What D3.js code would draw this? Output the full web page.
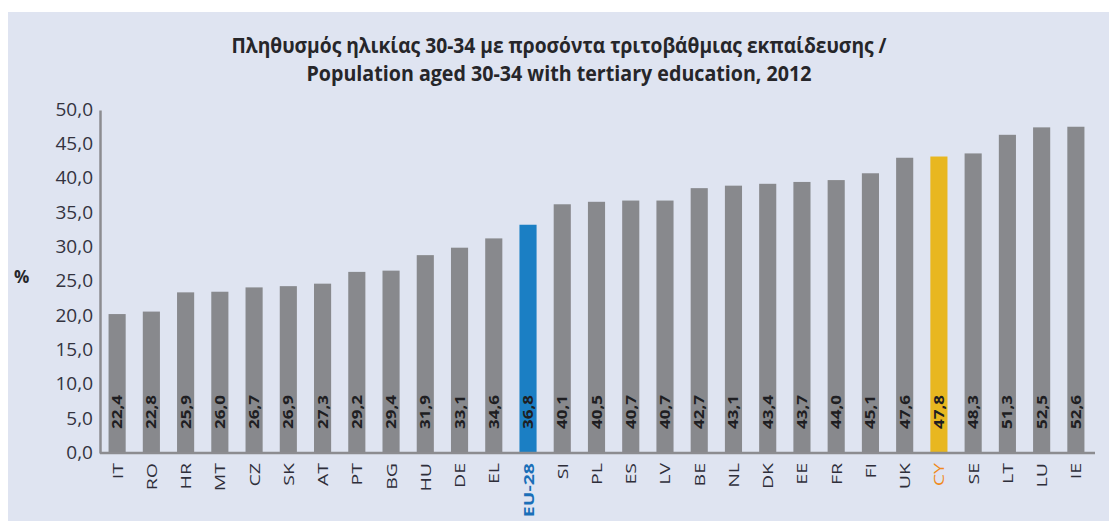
<!DOCTYPE html>
<html>
<head>
<meta charset="utf-8">
<script src="https://cdn.jsdelivr.net/npm/d3@7"></script>
<style>
  html, body { margin: 0; padding: 0; background: #ffffff; }
  svg { display: block; }
</style>
</head>
<body>
<svg id="chart" width="1109" height="521"></svg>
<script>
const titleLines = [
  "Πληθυσμός ηλικίας 30-34 με προσόντα τριτοβάθμιας εκπαίδευσης /",
  "Population aged 30-34 with tertiary education, 2012"
];
const categories = ["IT","RO","HR","MT","CZ","SK","AT","PT","BG","HU","DE","EL","EU-28","SI","PL","ES","LV","BE","NL","DK","EE","FR","FI","UK","CY","SE","LT","LU","IE"];
const values = [22.4,22.8,25.9,26.0,26.7,26.9,27.3,29.2,29.4,31.9,33.1,34.6,36.8,40.1,40.5,40.7,40.7,42.7,43.1,43.4,43.7,44.0,45.1,47.6,47.8,48.3,51.3,52.5,52.6];
const yTickValues = [0,5,10,15,20,25,30,35,40,45,50];
const yTickLabels = ["0,0","5,0","10,0","15,0","20,0","25,0","30,0","35,0","40,0","45,0","50,0"];
const yAxisLabel = "%";
const highlight = { "EU-28": { bar: "#1b7fc4", text: "#1a6fb8", weight: "bold" },
                    "CY":    { bar: "#e8b720", text: "#f08a1c", weight: "normal" } };

(function () {
const svg = d3.select("#chart");
const W = 1109, H = 521;
const mLeft = 100, mRight = 1093, mTop = 110, mBottom = 453;

svg.append("rect").attr("x", 8).attr("y", 12).attr("width", W - 8).attr("height", H - 12).attr("fill", "#dfe4f1");

// title
const tLens = [655, 505];
titleLines.forEach((t, i) => {
  svg.append("text")
    .attr("x", 559).attr("y", 53 + i * 28)
    .attr("text-anchor", "middle")
    .attr("font-family", "Open Sans, sans-serif")
    .attr("font-weight", "bold")
    .attr("font-size", 21)
    .attr("fill", "#26262a")
    .attr("textLength", tLens[i])
    .attr("lengthAdjust", "spacingAndGlyphs")
    .text(t);
});

const x = d3.scaleBand().domain(categories).range([mLeft, mRight]).paddingInner(0.5).paddingOuter(0.25);
// bar value scale (bars in source are drawn on their own scale)
const yBar = d3.scaleLinear().domain([0, 55.3]).range([mBottom, mTop]);
// axis scale as printed
const yAxis = d3.scaleLinear().domain([0, 50]).range([mBottom, mTop]);

// bars
svg.append("g").selectAll("rect").data(categories).join("rect")
  .attr("x", d => x(d))
  .attr("width", x.bandwidth())
  .attr("y", (d, i) => yBar(values[i]))
  .attr("height", (d, i) => yBar(0) - yBar(values[i]))
  .attr("fill", d => highlight[d] ? highlight[d].bar : "#88898d");

// value labels
const fmt = v => d3.format(".1f")(v).replace(".", ",");
svg.append("g").selectAll("text").data(categories).join("text")
  .attr("transform", d => `translate(${x(d) + x.bandwidth() / 2 + 5},429) scale(0.78,1) rotate(-90)`)
  .attr("font-family", "Open Sans, sans-serif")
  .attr("font-weight", "bold")
  .attr("font-size", 17)
  .attr("fill", "#1e1e22")
  .text((d, i) => fmt(values[i]));

// y axis
const gy = svg.append("g").attr("transform", `translate(${mLeft},0)`)
  .call(d3.axisLeft(yAxis).tickValues(yTickValues).tickSize(0).tickPadding(7)
    .tickFormat((d, i) => yTickLabels[i]));
gy.select(".domain").attr("stroke", "#8c8c90").attr("stroke-width", 2.5);
gy.selectAll("text")
  .attr("font-family", "Open Sans, sans-serif")
  .attr("font-size", 19)
  .attr("fill", "#33333f")
  .attr("dy", "0.28em");

// x axis line
svg.append("line").attr("x1", mLeft).attr("x2", 1095).attr("y1", mBottom).attr("y2", mBottom)
  .attr("stroke", "#8c8c90").attr("stroke-width", 2.5);

// x labels
svg.append("g").selectAll("text").data(categories).join("text")
  .attr("transform", d => `translate(${x(d) + x.bandwidth() / 2 + 5.5},463) scale(0.74,1) rotate(-90)`)
  .attr("text-anchor", "end")
  .attr("font-family", "Open Sans, sans-serif")
  .attr("font-size", 19.5)
  .attr("font-weight", d => highlight[d] ? highlight[d].weight : "normal")
  .attr("fill", d => highlight[d] ? highlight[d].text : "#2e2e3a")
  .text(d => d);

// y axis title
svg.append("text").attr("x", 14).attr("y", 283)
  .attr("font-family", "Open Sans, sans-serif")
  .attr("font-weight", "bold")
  .attr("font-size", 17)
  .attr("fill", "#26262a")
  .text(yAxisLabel);
})();
</script>
</body>
</html>
